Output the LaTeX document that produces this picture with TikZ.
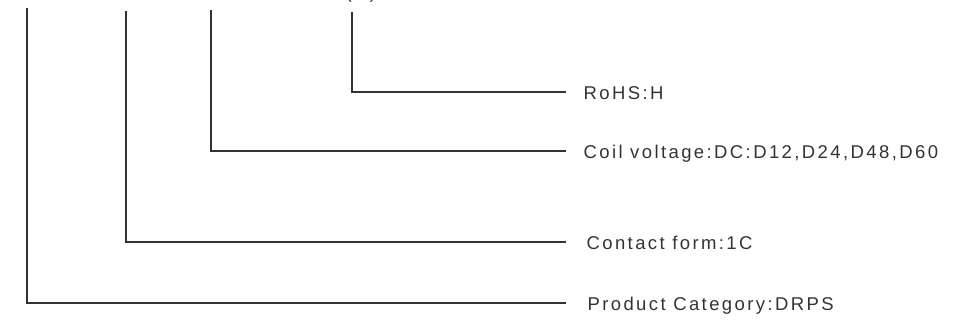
\documentclass[tikz,border=0pt]{standalone}
\usepackage{fontspec}
\newfontfamily\lblfont{Liberation Sans}[LetterSpace=13]
\usetikzlibrary{positioning}
\definecolor{inkgray}{HTML}{333333}

\begin{document}
\begin{tikzpicture}[x=1pt, y=-1pt, line width=1.1pt, draw=inkgray,
  lbl/.style={font=\lblfont\fontsize{18.5}{20}\selectfont, text=inkgray, inner sep=0pt}]
\useasboundingbox (0,0) rectangle (958,321);
\clip (0,0) rectangle (958,321);

% top ends of the leads
\coordinate (t1) at (27,8);
\coordinate (t2) at (126,11);
\coordinate (t3) at (211,10);
\coordinate (t4) at (352,12);
% right ends of the leads
\coordinate (e1) at (566,303);
\coordinate (e2) at (566,242);
\coordinate (e3) at (566,151);
\coordinate (e4) at (566,92);

\node[lbl, right=21pt of e1, yshift=-7.5pt, anchor=base west] (cat) {Product Category:DRPS};
\node[lbl, right=20pt of e2, yshift=-7.5pt, anchor=base west] (form) {Contact form:1C};
\node[lbl, right=17pt of e3, yshift=-7.5pt, anchor=base west] (coil) {Coil voltage:DC:D12,D24,D48,D60};
\node[lbl, right=17pt of e4, yshift=-7.5pt, anchor=base west] (rohs) {RoHS:H};
\node[lbl, anchor=base west] (code) at (345,-1) {(H)};

\draw (t1) |- (e1);
\draw (t2) |- (e2);
\draw (t3) |- (e3);
\draw (t4) |- (e4);
\end{tikzpicture}
\end{document}
